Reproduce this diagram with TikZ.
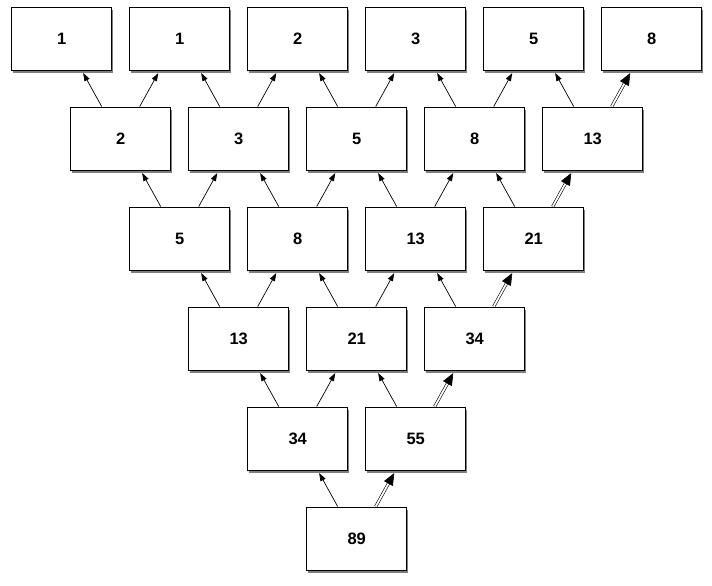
\documentclass[tikz,border=0pt]{standalone}
\usepackage{fontspec}
\setmainfont{Liberation Sans}
\usetikzlibrary{arrows.meta,shadows}
\tikzset{
	cell/.style={draw, line width=0.9pt, fill=white, minimum width=100pt, minimum height=63pt, inner sep=0pt,
		font=\fontsize{16.5}{18}\selectfont\bfseries,
		drop shadow={shadow xshift=1.5pt, shadow yshift=-3pt, fill=black, opacity=0.5}},
	link/.style={line width=0.7pt, -{Triangle[length=8pt,width=5.5pt]}, shorten >=3pt},
	dlink/.style={line width=0.6pt, double, double distance=1.8pt, -{Triangle[length=12pt,width=10pt]}, shorten >=3pt}
}

\begin{document}
\begin{tikzpicture}[x=1pt,y=1pt]
			%%%%% START %%%%%
			
			\useasboundingbox (0,0) rectangle (712,586);
			
			\node[cell] (a0) at (61.7, 547.5) {1};
			\node[cell] (a1) at (179.7, 547.5) {1};
			\node[cell] (a2) at (297.7, 547.5) {2};
			\node[cell] (a3) at (415.7, 547.5) {3};
			\node[cell] (a4) at (533.7, 547.5) {5};
			\node[cell] (a5) at (651.7, 547.5) {8};
			
			\node[cell] (b0) at (120.7, 447.5) {2};
			\node[cell] (b1) at (238.7, 447.5) {3};
			\node[cell] (b2) at (356.7, 447.5) {5};
			\node[cell] (b3) at (474.7, 447.5) {8};
			\node[cell] (b4) at (592.7, 447.5) {13};
			
			\node[cell] (c0) at (179.7, 347.5) {5};
			\node[cell] (c1) at (297.7, 347.5) {8};
			\node[cell] (c2) at (415.7, 347.5) {13};
			\node[cell] (c3) at (533.7, 347.5) {21};
			
			\node[cell] (d0) at (238.7, 247.5) {13};
			\node[cell] (d1) at (356.7, 247.5) {21};
			\node[cell] (d2) at (474.7, 247.5) {34};
			
			\node[cell] (e0) at (297.7, 147.5) {34};
			\node[cell] (e1) at (415.7, 147.5) {55};
			
			\node[cell] (f0) at (356.7, 47.5) {89};
			
			% row b -> row a
			\draw[link] ([xshift=-19pt]b0.north) -- ([xshift=20pt]a0.south);
			\draw[link] ([xshift=19pt]b0.north) -- ([xshift=-20pt]a1.south);
			\draw[link] ([xshift=-19pt]b1.north) -- ([xshift=20pt]a1.south);
			\draw[link] ([xshift=19pt]b1.north) -- ([xshift=-20pt]a2.south);
			\draw[link] ([xshift=-19pt]b2.north) -- ([xshift=20pt]a2.south);
			\draw[link] ([xshift=19pt]b2.north) -- ([xshift=-20pt]a3.south);
			\draw[link] ([xshift=-19pt]b3.north) -- ([xshift=20pt]a3.south);
			\draw[link] ([xshift=19pt]b3.north) -- ([xshift=-20pt]a4.south);
			\draw[link] ([xshift=-19pt]b4.north) -- ([xshift=20pt]a4.south);
			\draw[dlink] ([xshift=19pt]b4.north) -- ([xshift=-20pt]a5.south);
			
			% row c -> row b
			\draw[link] ([xshift=-19pt]c0.north) -- ([xshift=20pt]b0.south);
			\draw[link] ([xshift=19pt]c0.north) -- ([xshift=-20pt]b1.south);
			\draw[link] ([xshift=-19pt]c1.north) -- ([xshift=20pt]b1.south);
			\draw[link] ([xshift=19pt]c1.north) -- ([xshift=-20pt]b2.south);
			\draw[link] ([xshift=-19pt]c2.north) -- ([xshift=20pt]b2.south);
			\draw[link] ([xshift=19pt]c2.north) -- ([xshift=-20pt]b3.south);
			\draw[link] ([xshift=-19pt]c3.north) -- ([xshift=20pt]b3.south);
			\draw[dlink] ([xshift=19pt]c3.north) -- ([xshift=-20pt]b4.south);
			
			% row d -> row c
			\draw[link] ([xshift=-19pt]d0.north) -- ([xshift=20pt]c0.south);
			\draw[link] ([xshift=19pt]d0.north) -- ([xshift=-20pt]c1.south);
			\draw[link] ([xshift=-19pt]d1.north) -- ([xshift=20pt]c1.south);
			\draw[link] ([xshift=19pt]d1.north) -- ([xshift=-20pt]c2.south);
			\draw[link] ([xshift=-19pt]d2.north) -- ([xshift=20pt]c2.south);
			\draw[dlink] ([xshift=19pt]d2.north) -- ([xshift=-20pt]c3.south);
			
			% row e -> row d
			\draw[link] ([xshift=-19pt]e0.north) -- ([xshift=20pt]d0.south);
			\draw[link] ([xshift=19pt]e0.north) -- ([xshift=-20pt]d1.south);
			\draw[link] ([xshift=-19pt]e1.north) -- ([xshift=20pt]d1.south);
			\draw[dlink] ([xshift=19pt]e1.north) -- ([xshift=-20pt]d2.south);
			
			% row f -> row e
			\draw[link] ([xshift=-19pt]f0.north) -- ([xshift=20pt]e0.south);
			\draw[dlink] ([xshift=19pt]f0.north) -- ([xshift=-20pt]e1.south);
			
			%%%%% END %%%%%
		\end{tikzpicture}
\end{document}
